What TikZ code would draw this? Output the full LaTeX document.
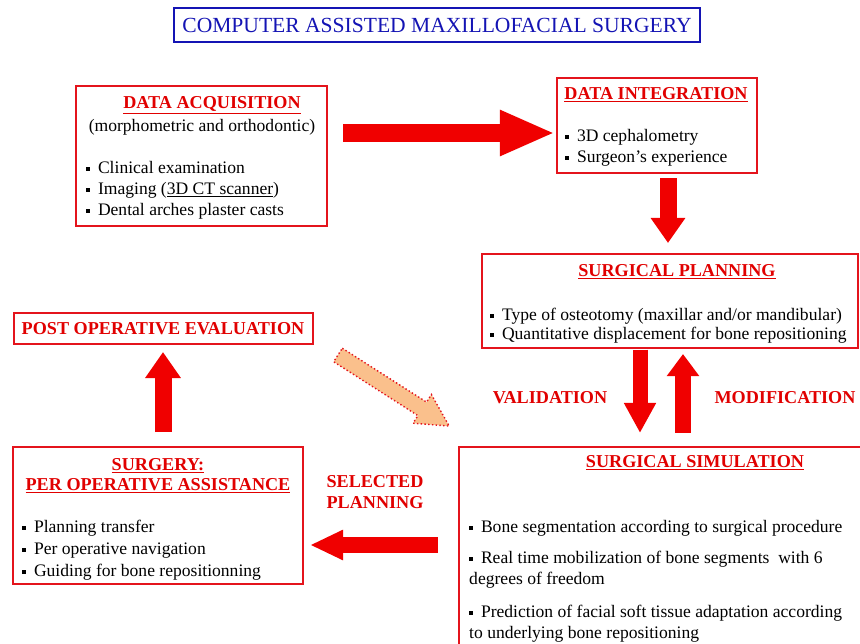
\documentclass[tikz,border=0pt]{standalone}
\usepackage{fontspec}
\setmainfont{Liberation Serif}
\usetikzlibrary{arrows.meta}
\definecolor{boxred}{RGB}{228,20,28}
\definecolor{txtred}{RGB}{225,0,0}
\definecolor{arrowred}{RGB}{240,0,0}
\definecolor{titleblue}{RGB}{20,20,180}
\definecolor{peach}{RGB}{250,192,140}
\newcommand{\sqbul}{\rule[0.3ex]{0.22em}{0.22em}\hspace{0.45em}}
\tikzset{
	redbox/.style={draw=boxred, line width=1.6pt, inner sep=0pt, outer sep=0pt},
	head/.style={text=txtred, inner sep=0pt, font=\fontsize{15.5}{17}\selectfont\bfseries},
	body/.style={anchor=west, align=left, inner sep=0pt, font=\fontsize{15}{18}\selectfont},
	bigarrow/.style n args={3}{draw=arrowred, line width=#1, -{Triangle[length=#2, width=#3, fill=arrowred]}},
}
\begin{document}
\begin{tikzpicture}[x=0.03cm, y=-0.03cm]
	\clip (0,0) rectangle (860,644);
	\fill[white] (0,0) rectangle (860,644);
	% title
	\node[draw=titleblue, line width=1.6pt, minimum width=15.78cm, minimum height=1.02cm,
		text=titleblue, font=\fontsize{18.4}{20}\selectfont] (title) at (437,25) {COMPUTER ASSISTED MAXILLOFACIAL SURGERY};
	% boxes
	\node[redbox, minimum width=7.53cm, minimum height=4.2cm] (acq) at (201.5,156) {};
	\node[redbox, minimum width=6cm, minimum height=2.85cm] (integ) at (657,125.5) {};
	\node[redbox, minimum width=11.28cm, minimum height=2.82cm] (plan) at (670,301) {};
	\node[redbox, minimum width=8.97cm, minimum height=0.93cm] (postop) at (163.5,328.5) {};
	\node[redbox, minimum width=8.7cm, minimum height=4.11cm] (surg) at (158,515.5) {};
	\node[redbox, minimum width=12.63cm, minimum height=6.69cm] (sim) at (669.5,558.5) {};
	% data acquisition
	\node[head] (acqT) at (212,105) {\underline{DATA ACQUISITION}};
	\node[inner sep=0pt, font=\fontsize{15}{18}\selectfont] (acqS) at (202,127) {(morphometric and orthodontic)};
	\node[body] (acqB) at (86,190) {\sqbul Clinical examination\\ \sqbul Imaging (\underline{3D CT scanner})\\ \sqbul Dental arches plaster casts};
	% data integration
	\node[head] (integT) at (656,95) {\underline{DATA INTEGRATION}};
	\node[body] (integB) at (565,147.5) {\sqbul 3D cephalometry\\ \sqbul Surgeon's experience};
	% surgical planning
	\node[head] (planT) at (677,272) {\underline{SURGICAL PLANNING}};
	\node[body, font=\fontsize{15}{16}\selectfont] (planB) at (490,325.5) {\sqbul Type of osteotomy (maxillar and/or mandibular)\\ \sqbul Quantitative displacement for bone repositioning};
	% post operative
	\node[head] (postT) at (163,329) {POST OPERATIVE EVALUATION};
	% surgery
	\node[head, align=center] (surgT) at (158,476) {\underline{SURGERY:}\\ \underline{PER OPERATIVE ASSISTANCE}};
	\node[body, font=\fontsize{15}{19}\selectfont] (surgB) at (22,550) {\sqbul Planning transfer\\ \sqbul Per operative navigation\\ \sqbul Guiding for bone repositionning};
	% surgical simulation
	\node[head] (simT) at (695,463) {\underline{SURGICAL SIMULATION}};
	\node[body] (simB1) at (469,528) {\sqbul Bone segmentation according to surgical procedure};
	\node[body] (simB2) at (469,569.5) {\sqbul Real time mobilization of bone segments~ with 6\\degrees of freedom};
	\node[body] (simB3) at (469,623.5) {\sqbul Prediction of facial soft tissue adaptation according\\to underlying bone repositioning};
	% labels
	\node[head] (valid) at (550,398) {VALIDATION};
	\node[head] (modif) at (785,398) {MODIFICATION};
	\node[head, align=center, font=\fontsize{15.5}{18}\selectfont\bfseries] (selP) at (375,492.5) {SELECTED\\PLANNING};
	% arrows
	\coordinate (r) at (0,133);
	\coordinate (d) at (668,0);
	\coordinate (v) at (640,0);
	\coordinate (m) at (683,0);
	\coordinate (p) at (163,0);
	\coordinate (l) at (0,545);
	\draw[bigarrow={0.54cm}{1.65cm}{1.26cm}, shorten <=0.48cm, shorten >=0.06cm] (r -| acq.east) -- (r -| integ.west);
	\draw[bigarrow={0.51cm}{0.75cm}{0.99cm}, shorten <=0.15cm, shorten >=0.33cm] (d |- integ.south) -- (d |- plan.north);
	\draw[bigarrow={0.45cm}{0.9cm}{0.9cm}, shorten <=0.05cm, shorten >=0.42cm] (v |- plan.south) -- (v |- sim.north);
	\draw[bigarrow={0.48cm}{0.66cm}{0.93cm}, shorten <=0.42cm, shorten >=0.18cm] (m |- sim.north) -- (m |- plan.south);
	\draw[bigarrow={0.51cm}{0.78cm}{1.02cm}, shorten <=0.45cm, shorten >=0.24cm] (p |- surg.north) -- (p |- postop.south);
	\draw[bigarrow={0.48cm}{0.99cm}{0.84cm}, shorten <=0.63cm, shorten >=0.21cm] (l -| sim.west) -- (l -| surg.east);
	% dotted arrow
	\begin{scope}[shift={(338,355)}, rotate=-32.6]
		\draw[draw=boxred, fill=peach, line width=1.2pt, dotted]
			(0,-8) -- (100,-8) -- (100,-17) -- (132,0) -- (100,17) -- (100,8) -- (0,8) -- cycle;
	\end{scope}
\end{tikzpicture}
\end{document}
